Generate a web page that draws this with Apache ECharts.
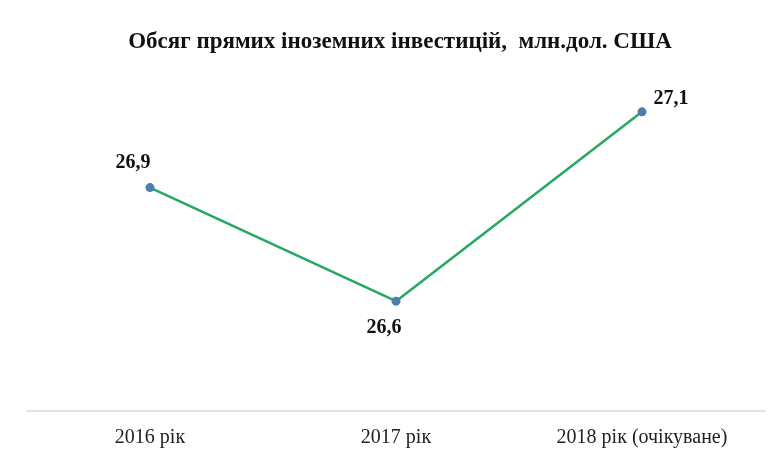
<!DOCTYPE html>
<html><head><meta charset="utf-8">
<script src="https://cdn.jsdelivr.net/npm/echarts@6/dist/echarts.min.js"></script>
<style>html,body{margin:0;padding:0;background:#fff}#c{width:768px;height:450px}</style>
</head><body><div id="c"></div>
<script>
var categories = ['2016 рік', '2017 рік', '2018 рік (очікуване)'];
var values = [26.9, 26.6, 27.1];
var labelOffsets = [[-17, 3], [-12, -1], [29, 14]];
var labelPositions = ['top', 'bottom', 'top'];

var chart = echarts.init(document.getElementById('c'));
var serif = '"Liberation Serif", "DejaVu Serif", serif';
chart.setOption({
  animation: false,
  title: {
    text: 'Обсяг прямих іноземних інвестицій,  млн.дол. США',
    left: 395, top: 26, textAlign: 'center',
    textStyle: { fontFamily: serif, fontSize: 23, fontWeight: 'bold', color: '#111' }
  },
  grid: { left: 27, right: 3, top: 74, bottom: 39 },
  xAxis: {
    type: 'category', data: categories, boundaryGap: true,
    axisLine: { lineStyle: { color: '#d9d9d9', width: 1.5 } },
    axisTick: { show: false },
    axisLabel: { fontFamily: serif, fontSize: 20, color: '#222', margin: 17 }
  },
  yAxis: { type: 'value', min: 26.31, max: 27.2, show: false, splitLine: { show: false } },
  series: [{
    type: 'line',
    data: values.map(function (v, i) {
      return { value: v, label: { position: labelPositions[i], offset: labelOffsets[i] } };
    }),
    symbol: 'circle', symbolSize: 9,
    lineStyle: { color: '#27a862', width: 2.5 },
    itemStyle: { color: '#4e7fa8' },
    label: {
      show: true, distance: 13, fontFamily: serif, fontSize: 20, fontWeight: 'bold', color: '#111',
      formatter: function (p) { return String(p.value).replace('.', ','); }
    }
  }]
});
</script></body></html>
